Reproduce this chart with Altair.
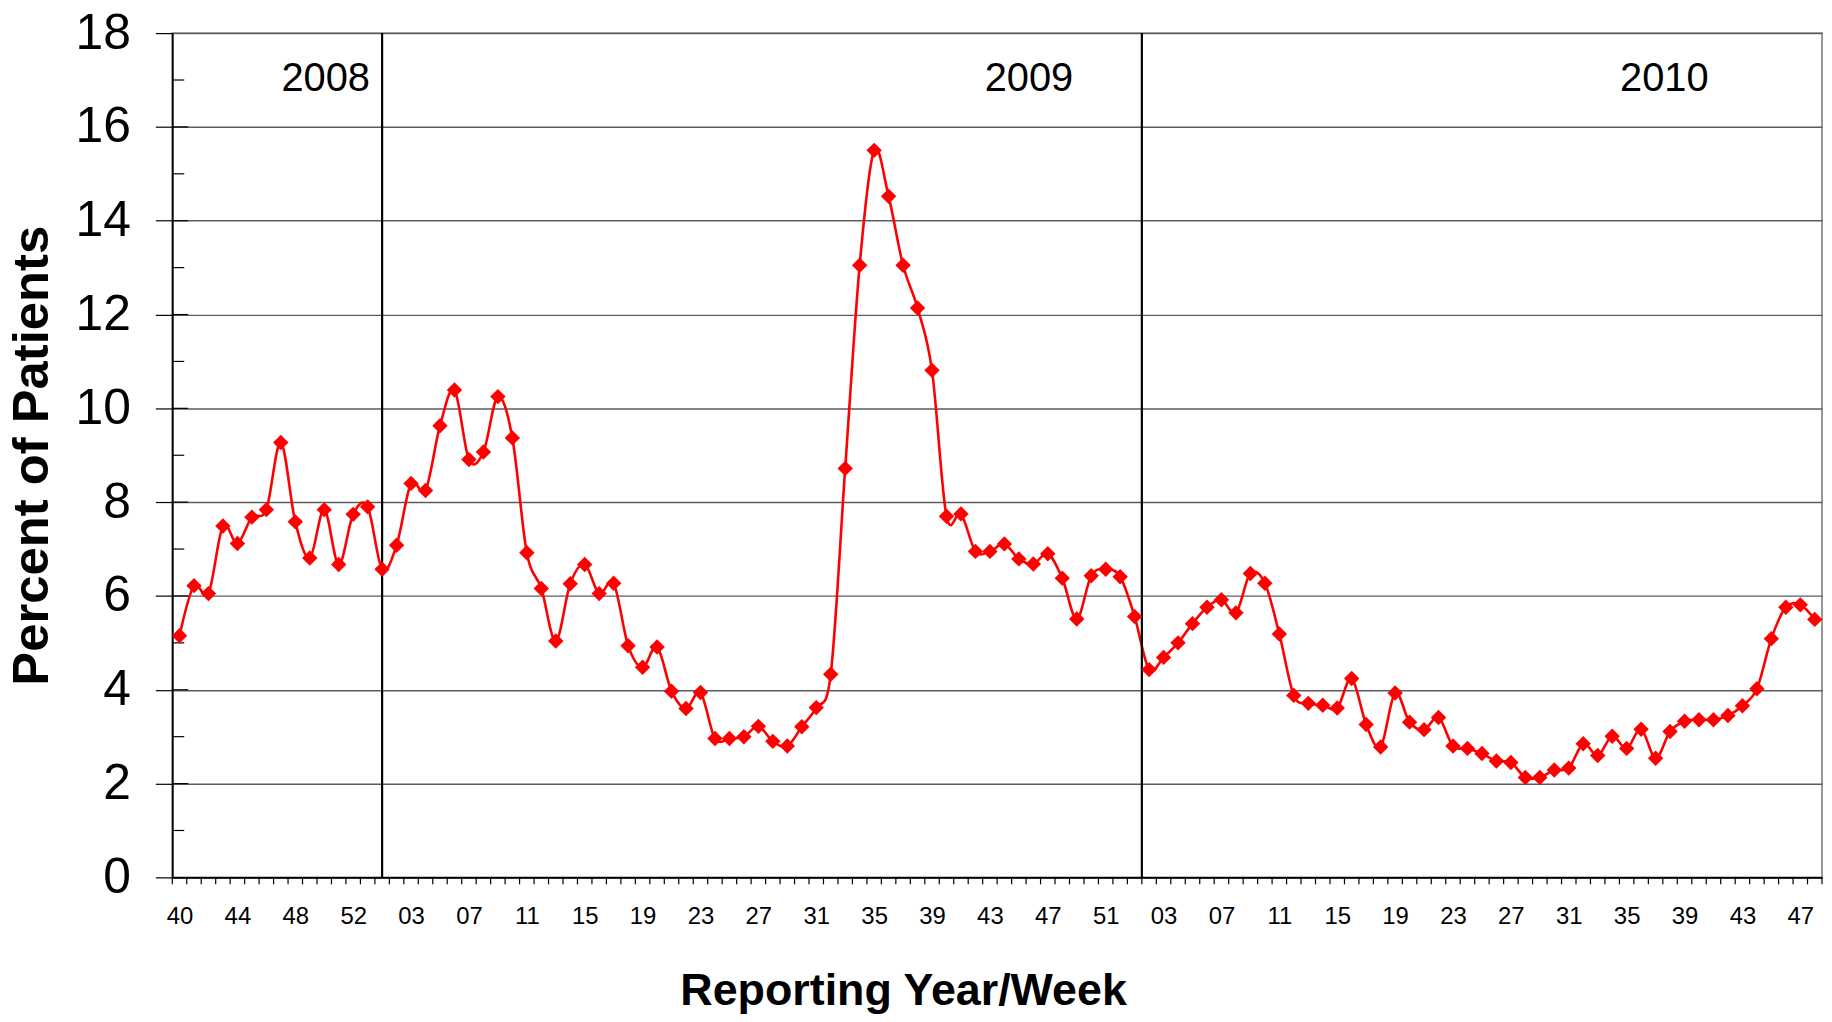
import altair as alt
import pandas as pd
import json

# ---- data (percent of patients, by reporting week) ----
pct_2008 = [5.15, 6.22, 6.05, 7.49, 7.12, 7.68, 7.84, 9.27, 7.58, 6.81, 7.84, 6.67, 7.74, 7.90]
pct_2009 = [6.57, 7.08, 8.40, 8.25, 9.63, 10.39, 8.91, 9.07, 10.25, 9.37,
            6.92, 6.16, 5.04, 6.26, 6.67, 6.05, 6.27, 4.94, 4.48, 4.91,
            3.97, 3.60, 3.94, 2.96, 2.96, 3.00, 3.22, 2.90, 2.80, 3.21,
            3.62, 4.33, 8.72, 13.05, 15.50, 14.52, 13.05, 12.14, 10.81, 7.70,
            7.75, 6.95, 6.95, 7.11, 6.79, 6.68, 6.90, 6.38, 5.51, 6.43,
            6.57, 6.41]
pct_2010 = [5.56, 4.43, 4.69, 5.00, 5.41, 5.76, 5.92, 5.64, 6.48, 6.27,
            5.19, 3.88, 3.71, 3.67, 3.61, 4.24, 3.26, 2.78, 3.93, 3.31,
            3.15, 3.41, 2.80, 2.75, 2.64, 2.48, 2.45, 2.13, 2.13, 2.29,
            2.33, 2.85, 2.60, 3.01, 2.75, 3.16, 2.54, 3.11, 3.33, 3.36,
            3.36, 3.45, 3.66, 4.02, 5.09, 5.76, 5.81, 5.50]
weeks_2008 = list(range(40, 54))
weeks_2009 = list(range(1, 53))
weeks_2010 = list(range(1, 49))

years = ["2008", "2009", "2010"]
year_label_at = [10.1, 58.7, 102.6]   # category index the year label is centred on
year_label_level = [16.77, 16.77, 16.77]
year_breaks = [14, 66.5]              # category index of the year separators
y_major = list(range(0, 19, 2))
y_minor = list(range(1, 18, 2))
y_major_inner = list(range(2, 17, 2))

week_labels = [f"{w:02d}" for w in weeks_2008 + weeks_2009 + weeks_2010]
values = pct_2008 + pct_2009 + pct_2010
n = len(values)

df = pd.DataFrame({"i": list(range(n)), "week": week_labels, "pct": values})
df_years = pd.DataFrame({"label": years, "x": year_label_at, "y": year_label_level})
df_breaks = pd.DataFrame({"x": year_breaks, "y0": [0, 0], "y1": [18, 18]})
df_minor = pd.DataFrame({"v": y_minor})
df_major_inner = pd.DataFrame({"v": y_major_inner})
df_xticks = pd.DataFrame({"b": [i - 0.5 for i in range(n + 1)]})

FONT = "Liberation Sans"
PLOT_H = 848

x_scale = alt.Scale(domain=[-0.5, n - 0.5], nice=False, zero=False)
y_scale = alt.Scale(domain=[0, 18], nice=False)

label_idx = list(range(0, n, 4))
label_expr = json.dumps(week_labels) + "[datum.value]"

x_axis = alt.Axis(
    values=label_idx,
    labelExpr=label_expr,
    ticks=False,
    domainColor="black", domainWidth=1.8,
    labelFont=FONT, labelFontSize=24, labelColor="black", labelPadding=27,
    labelOverlap=False, labelFlush=False, labelBound=False,
    grid=False,
    title="Reporting Year/Week", titleFont=FONT, titleFontSize=45, titleFontWeight="bold",
    titleColor="black", titleX=734, titleY=128, titleAlign="center", titleBaseline="alphabetic",
)

y_axis = alt.Axis(
    values=y_major, format="d",
    tickSize=17, tickColor="black", tickWidth=1.2,
    domainColor="black", domainWidth=1.8,
    labelFont=FONT, labelFontSize=50, labelColor="black", labelPadding=25,
    grid=True, gridColor="#5c5c5c", gridWidth=1.4,
    title="Percent of Patients", titleFont=FONT, titleFontSize=51, titleFontWeight="bold",
    titleColor="black", titleAngle=270, titleX=-125, titleY=PLOT_H / 2, titleAlign="center",
    titleBaseline="alphabetic",
)

line = alt.Chart(df).mark_line(interpolate="cardinal", color="#FF0000", strokeWidth=2.6).encode(
    x=alt.X("i:Q", scale=x_scale, axis=x_axis),
    y=alt.Y("pct:Q", scale=y_scale, axis=y_axis),
)

points = alt.Chart(df).mark_point(shape="diamond", filled=True, size=240, color="#FF0000", opacity=1).encode(
    x="i:Q",
    y="pct:Q",
)

breaks = alt.Chart(df_breaks).mark_rule(color="black", strokeWidth=2.2).encode(
    x="x:Q",
    y="y0:Q",
    y2="y1:Q",
)

minor = alt.Chart(df_minor).mark_rule(color="black", strokeWidth=1.2).encode(
    y="v:Q",
    x=alt.value(0), x2=alt.value(12),
)

major_inner = alt.Chart(df_major_inner).mark_rule(color="black", strokeWidth=1.2).encode(
    y="v:Q",
    x=alt.value(0), x2=alt.value(16),
)

xticks = alt.Chart(df_xticks).mark_rule(color="black", strokeWidth=1.2).encode(
    x="b:Q",
    y=alt.value(PLOT_H), y2=alt.value(PLOT_H + 7),
)

year_text = alt.Chart(df_years).mark_text(
    font=FONT, fontSize=40, color="black", align="center", baseline="alphabetic"
).encode(
    x="x:Q",
    y="y:Q",
    text="label:N",
)

chart = alt.layer(line, breaks, minor, major_inner, xticks, points, year_text).properties(
    width=1657,
    height=PLOT_H,
    autosize=alt.AutoSizeParams(type="none"),
    padding={"left": 165, "top": 23, "right": 2, "bottom": 135},
    background="white",
).configure_view(stroke="#808080", strokeWidth=1.6)

chart.save("out.html", embed_options={"renderer": "svg", "actions": False})
